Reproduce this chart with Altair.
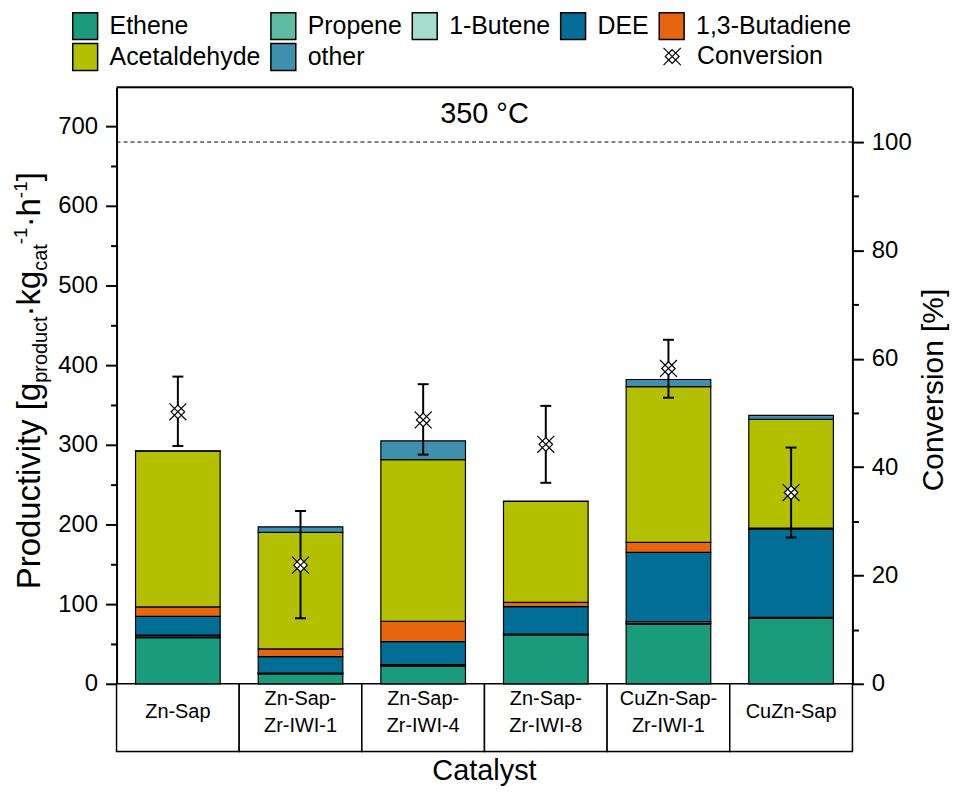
import altair as alt
import pandas as pd

# ---------------- data ----------------
cats = ["Zn-Sap", "Zn-Sap-Zr-IWI-1", "Zn-Sap-Zr-IWI-4", "Zn-Sap-Zr-IWI-8",
        "CuZn-Sap-Zr-IWI-1", "CuZn-Sap"]
cat_labels = ["Zn-Sap", "Zn-Sap-\nZr-IWI-1", "Zn-Sap-\nZr-IWI-4", "Zn-Sap-\nZr-IWI-8",
              "CuZn-Sap-\nZr-IWI-1", "CuZn-Sap"]

products = ["Ethene", "Propene", "1-Butene", "DEE", "1,3-Butadiene", "Acetaldehyde", "other"]
colors = ["#199b7c", "#5dbca2", "#a6dccd", "#006e95", "#e8650f", "#b3c000", "#3f8fae"]

ethene = [58, 12.5, 22, 61.5, 75, 82.5]
propene = [2, 0.5, 1.5, 0.5, 1, 0.5]
butene = [1, 0.5, 0.5, 0.3, 2, 0.5]
dee = [23.5, 20.5, 29, 34.5, 87, 110.5]
butadiene = [12, 9.8, 25.5, 5.5, 12.5, 1.5]
acetaldehyde = [195.5, 146.2, 203, 126.5, 195.5, 136.5]
other = [0.5, 7, 23.5, 0.5, 9, 5]

conversion = [50.2, 21.9, 48.7, 44.2, 58.2, 35.3]
conv_low = [43.9, 12.1, 42.3, 37.1, 52.8, 27.0]
conv_high = [56.7, 31.9, 55.3, 51.3, 63.5, 43.6]

left_ticks = list(range(0, 701, 50))
right_ticks = list(range(0, 101, 10))

series = [ethene, propene, butene, dee, butadiene, acetaldehyde, other]
rows = []
for pi, (p, vals) in enumerate(zip(products, series)):
    for c, v in zip(cats, vals):
        rows.append({"cat": c, "product": p, "value": v, "idx": pi})
df_prod = pd.DataFrame(rows)

df_conv = pd.DataFrame({"cat": cats, "conv": conversion, "lo": conv_low, "hi": conv_high})
df_caps = pd.DataFrame({"cat": cats + cats, "v": conv_low + conv_high})
df_table = pd.DataFrame({"cat": cats, "label": cat_labels})
df_table["lines"] = df_table["label"].str.count("\n") + 1

# ---------------- layout ----------------
W = 739
PH = 599        # plot height (0 .. 748.75)
TH = 68         # table height
H = PH + TH
FONT = "Liberation Sans"

xs_bar = alt.Scale(domain=cats, paddingInner=0.31, paddingOuter=0.155)
xs_tab = alt.Scale(domain=cats, paddingInner=0, paddingOuter=0)
ys_left = alt.Scale(domain=[0, 748.75], range=[PH, 0], nice=False, zero=True)
ys_right = alt.Scale(domain=[0, 110.1], range=[PH, 0], nice=False, zero=True)

rect_path = "M-0.926,-1H0.926V1H-0.926Z"
marker_path = "M0,-0.8L0.8,0L0,0.8L-0.8,0Z M-1,-1L1,1 M-1,1L1,-1"

def ax(values, major, orient):
    return alt.Axis(
        values=values, orient=orient, title=None, grid=False,
        labelExpr=f"datum.value % {major} === 0 ? datum.label : ''",
        tickSize={"condition": {"test": f"datum.value % {major} === 0", "value": 11}, "value": 6},
        tickWidth=2, domainWidth=2, domainColor="black", tickColor="black",
        labelFontSize=24, labelColor="black", labelFont=FONT, labelPadding=8,
        labelFlush=False, labelOverlap=False,
    )

bars = alt.Chart(df_prod).mark_bar(stroke="black", strokeWidth=1.2, opacity=1).encode(
    x=alt.X("cat:N", scale=xs_bar, axis=None, sort=cats),
    y=alt.Y("value:Q", stack="zero", scale=ys_left, axis=ax(left_ticks, 100, "left")),
    color=alt.Color("product:N", scale=alt.Scale(domain=products, range=colors),
                    legend=alt.Legend(
                        title=None, orient="none", legendX=-46, legendY=-76, direction="horizontal",
                        columns=5, symbolType=rect_path, symbolSize=729, symbolStrokeColor="black",
                        symbolStrokeWidth=1.5, symbolOpacity=1, labelFontSize=25, labelFont=FONT,
                        labelColor="black", labelOffset=10, columnPadding=6, rowPadding=-3,
                        padding=0, labelLimit=400)),
    order=alt.Order("idx:Q", sort="ascending"),
)

dashed = alt.Chart(pd.DataFrame({"v": [100]})).mark_rule(
    color="black", strokeWidth=1, strokeDash=[4, 3]).encode(
    y=alt.Y("v:Q", scale=ys_right, axis=None))

err = alt.Chart(df_conv).mark_rule(color="black", strokeWidth=2).encode(
    x=alt.X("cat:N", scale=xs_bar, axis=None, sort=cats),
    y=alt.Y("lo:Q", scale=ys_right, axis=None),
    y2="hi:Q")

caps = alt.Chart(df_caps).mark_tick(color="black", size=11, thickness=2, opacity=1).encode(
    x=alt.X("cat:N", scale=xs_bar, axis=None, sort=cats),
    y=alt.Y("v:Q", scale=ys_right, axis=None))

points = alt.Chart(df_conv).mark_point(shape=marker_path, fill="white", stroke="black",
                                       strokeWidth=1.2, opacity=1, fillOpacity=1,
                                       strokeOpacity=1, size=289).encode(
    x=alt.X("cat:N", scale=xs_bar, axis=None, sort=cats),
    y=alt.Y("conv:Q", scale=ys_right, axis=ax(right_ticks, 20, "right")),
)

# legend entry for the conversion marker
conv_leg_sym = alt.Chart(pd.DataFrame({"a": [0]})).mark_point(
    shape=marker_path, fill="white", stroke="black", strokeWidth=1.2, opacity=1,
    fillOpacity=1, size=300).encode(x=alt.value(558), y=alt.value(-31))

table_rect = alt.Chart(df_table).mark_rect(fill="white", stroke="black", strokeWidth=1.5).encode(
    x=alt.X("cat:N", scale=xs_tab, axis=None, sort=cats),
    y=alt.value(PH), y2=alt.value(H))

def table_text(nlines, y):
    return alt.Chart(df_table).transform_filter(f"datum.lines == {nlines}").mark_text(
        fontSize=20, font=FONT, color="black", lineBreak="\n", lineHeight=27,
        baseline="middle", align="center").encode(
        x=alt.X("cat:N", scale=xs_tab, axis=None, sort=cats),
        y=alt.value(y), text="label:N")

table_text1 = table_text(1, PH + 28)
table_text2 = table_text(2, PH + 15)

top_border = alt.Chart(pd.DataFrame({"a": [0]})).mark_rule(color="black", strokeWidth=2).encode(
    x=alt.value(0), x2=alt.value(W), y=alt.value(0))

def txt(s, x, y, size, angle=0, align="center", baseline="middle"):
    return alt.Chart(pd.DataFrame({"a": [0]})).mark_text(
        text=s, fontSize=size, font=FONT, color="black", angle=angle,
        align=align, baseline=baseline).encode(x=alt.value(x), y=alt.value(y))

conv_leg_txt = txt("Conversion", 583, -31, 25, align="left")
temp_label = txt("350 °C", W / 2, 27, 29)
x_title = txt("Catalyst", W / 2, H + 29, 29, baseline="alphabetic")
r_title = txt("Conversion [%]", W + 82, 304, 30, angle=270)

# left title composed of pieces (main / sub / sup)
FM, FS = 33, 20
pieces = [("Productivity [g", "m"), ("product", "b"), ("·kg", "m"), ("cat", "b"),
          ("-1", "p"), ("·h", "m"), ("-1", "p"), ("]", "m")]
w_em = {"Productivity [g": 6280, "product": 3335, "·kg": 1389, "cat": 1334,
        "-1": 889, "·h": 889, "]": 278}
ytitle = []
ypos = 504
for s, kind in pieces:
    size = FM if kind == "m" else (FS if kind == "b" else 19)
    xb = {"m": -77, "b": -70, "p": -90}[kind]
    ytitle.append(txt(s, xb, ypos, size, angle=270, align="left", baseline="alphabetic"))
    ypos -= w_em[s] * size / 1000.0

chart = alt.layer(
    table_rect, table_text1, table_text2, bars, dashed, err, caps, points, top_border,
    conv_leg_sym, conv_leg_txt, temp_label, x_title, r_title, *ytitle
).resolve_scale(x="independent", y="independent").properties(
    width=W, height=H,
    autosize=alt.AutoSizeParams(type="none"),
    padding={"left": 109, "top": 78, "right": 98, "bottom": 34},
).configure_view(stroke=None).configure(font=FONT)

chart.save("out.html", embed_options={"renderer": "svg", "actions": False})
